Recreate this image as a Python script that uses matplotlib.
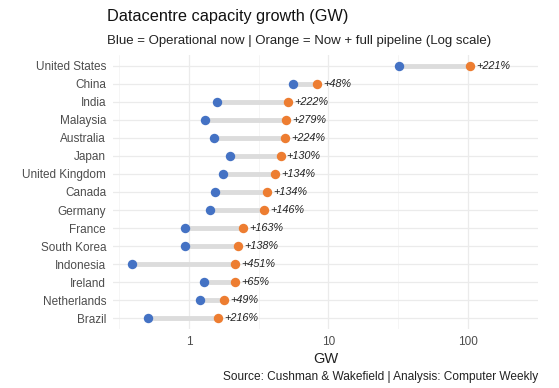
import matplotlib
matplotlib.use("Agg")

import matplotlib.pyplot as plt
import numpy as np
from matplotlib.ticker import FixedLocator, NullFormatter

countries = ["United States", "China", "India", "Malaysia", "Australia", "Japan",
             "United Kingdom", "Canada", "Germany", "France", "South Korea",
             "Indonesia", "Ireland", "Netherlands", "Brazil"]
operational_gw = [32.1, 5.6, 1.6, 1.3, 1.5, 1.97, 1.76, 1.54, 1.41, 0.93, 0.94, 0.39, 1.29, 1.19, 0.51]
pipeline_gw = [103.0, 8.3, 5.15, 4.93, 4.86, 4.53, 4.12, 3.6, 3.47, 2.44, 2.24, 2.15, 2.13, 1.77, 1.61]
growth_labels = ["+221%", "+48%", "+222%", "+279%", "+224%", "+130%", "+134%", "+134%",
                 "+146%", "+163%", "+138%", "+451%", "+65%", "+49%", "+216%"]

BLUE = "#4472C4"
ORANGE = "#ED7D31"

plt.rcParams["font.family"] = ["Liberation Sans", "DejaVu Sans"]

fig = plt.figure(figsize=(5.59, 3.88), dpi=100)
W, H = 559, 388
ax = fig.add_axes([113 / W, 1 - 329 / H, (538 - 113) / W, (329 - 55) / H])

y = np.arange(len(countries))[::-1]

ax.hlines(y, operational_gw, pipeline_gw, color="#DCDCDC", linewidth=3.5, zorder=2)
ax.scatter(operational_gw, y, s=46, color=BLUE, zorder=3, linewidths=0)
ax.scatter(pipeline_gw, y, s=46, color=ORANGE, zorder=3, linewidths=0)
for xv, yv, lab in zip(pipeline_gw, y, growth_labels):
    ax.annotate(lab, (xv, yv), xytext=(4.5, 0), textcoords="offset points",
                ha="left", va="center", fontsize=7.8, style="italic", color="#222222")

ax.set_xscale("log")
ax.set_xlim(10 ** -0.545, 10 ** 2.502)
ax.set_ylim(-0.6, len(countries) - 0.4)

ax.xaxis.set_major_locator(FixedLocator([1, 10, 100]))
ax.xaxis.set_minor_locator(FixedLocator([10 ** -0.5, 10 ** 0.5, 10 ** 1.5, 10 ** 2.5]))
ax.xaxis.set_minor_formatter(NullFormatter())
ax.set_xticklabels(["1", "10", "100"])
ax.set_yticks(y)
ax.set_yticklabels(countries)

ax.grid(True, which="major", color="#EBEBEB", linewidth=0.9, zorder=0)
ax.grid(True, which="minor", axis="x", color="#F2F2F2", linewidth=0.5, zorder=0)
ax.set_axisbelow(True)
for s in ax.spines.values():
    s.set_visible(False)
ax.tick_params(which="both", length=0)
ax.tick_params(axis="y", pad=5, labelsize=8.5, labelcolor="#4D4D4D")
ax.tick_params(axis="x", pad=5, labelsize=8.5, labelcolor="#4D4D4D")

ax.set_xlabel("GW", fontsize=10.5, color="#222222", labelpad=3)

fig.text(107 / W, 1 - 17 / H, "Datacentre capacity growth (GW)", fontsize=11.7,
         color="#111111", ha="left", va="center")
fig.text(107 / W, 1 - 41 / H, "Blue = Operational now | Orange = Now + full pipeline (Log scale)",
         fontsize=9.5, color="#222222", ha="left", va="center")
fig.text(538 / W, 1 - 377 / H, "Source: Cushman & Wakefield | Analysis: Computer Weekly",
         fontsize=8.55, color="#222222", ha="right", va="center")

fig.savefig("out.png", dpi=100, facecolor="white")
